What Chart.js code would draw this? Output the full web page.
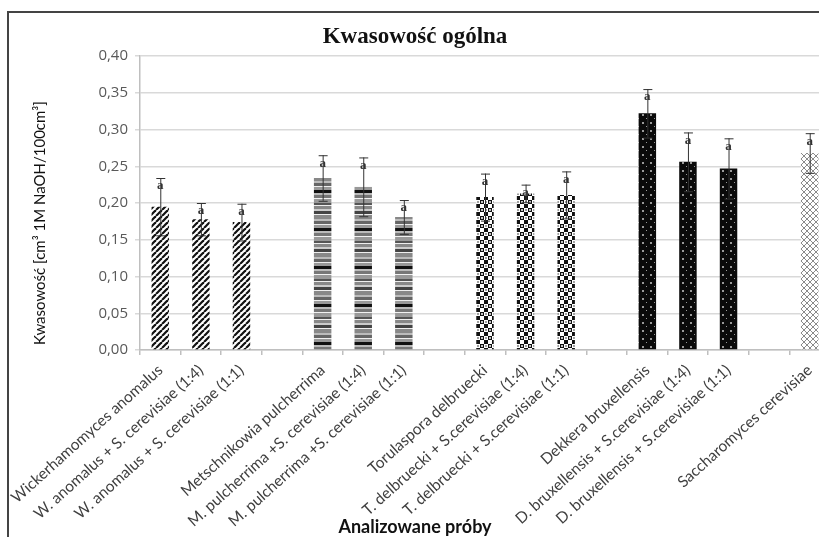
<!DOCTYPE html>
<html>
<head>
<meta charset="utf-8">
<script src="https://cdn.jsdelivr.net/npm/chart.js@4"></script>
<style>
  html, body { margin: 0; padding: 0; background: #fff; overflow: hidden; }
  #wrap { position: absolute; left: 0; top: 0; width: 830px; height: 537px; }
</style>
</head>
<body>
<div id="wrap"><canvas id="c"></canvas></div>
<script>
// dane (puste sloty = odstępy między grupami)
const labels = [
  'Wickerhamomyces anomalus', 'W. anomalus + S. cerevisiae (1:4)', 'W. anomalus + S. cerevisiae (1:1)', '',
  'Metschnikowia pulcherrima', 'M. pulcherrima +S. cerevisiae (1:4)', 'M. pulcherrima +S. cerevisiae (1:1)', '',
  'Torulaspora delbruecki', 'T. delbruecki + S.cerevisiae (1:4)', 'T. delbruecki + S.cerevisiae (1:1)', '',
  'Dekkera bruxellensis', 'D. bruxellensis + S.cerevisiae (1:4)', 'D. bruxellensis + S.cerevisiae (1:1)', '',
  'Saccharomyces cerevisiae'
];
const values = [0.195, 0.178, 0.174, null, 0.234, 0.222, 0.181, null, 0.208, 0.213, 0.211, null, 0.322, 0.256, 0.247, null, 0.268];
const errors = [0.039, 0.022, 0.025, null, 0.031, 0.040, 0.023, null, 0.032, 0.012, 0.032, null, 0.033, 0.040, 0.041, null, 0.027];
const letters = ['a', 'a', 'a', '', 'a', 'a', 'a', '', 'a', 'a', 'a', '', 'a', 'a', 'a', '', 'a'];
const groups = [0, 0, 0, -1, 1, 1, 1, -1, 2, 2, 2, -1, 3, 3, 3, -1, 4];
const yTitle = 'Kwasowość [cm³ 1M NaOH/100cm³]';
const xTitle = 'Analizowane próby';

// wzory wypełnień
function tile(w, h, draw) {
  const cv = document.createElement('canvas');
  cv.width = w; cv.height = h;
  const g = cv.getContext('2d');
  draw(g);
  return document.getElementById('c').getContext('2d').createPattern(cv, 'repeat');
}
const hatch = tile(6, 6, g => {
  g.fillStyle = '#fff'; g.fillRect(0, 0, 6, 6);
  g.strokeStyle = '#111'; g.lineWidth = 2.2;
  for (let k = -6; k <= 12; k += 6) { g.beginPath(); g.moveTo(k, 6); g.lineTo(k + 6, 0); g.stroke(); }
});
const stripes = tile(4, 38, g => {
  const bands = [[3, '#111'], [2, '#bbb'], [3, '#777'], [1, '#f2f2f2'], [4, '#999'], [2, '#555'], [1, '#eee'],
    [3, '#888'], [2, '#ccc'], [3, '#444'], [1, '#eee'], [4, '#888'], [2, '#bbb'], [3, '#666'], [1, '#eee'], [3, '#999']];
  let y = 0;
  for (const [h, c] of bands) { g.fillStyle = c; g.fillRect(0, y, 4, h); y += h; }
});
const checks = tile(8, 8, g => {
  g.fillStyle = '#fff'; g.fillRect(0, 0, 8, 8);
  g.fillStyle = '#111';
  g.fillRect(0, 0, 4, 4); g.fillRect(4, 4, 4, 4);
  g.fillStyle = '#fff';
  g.beginPath(); g.arc(2, 2, 1, 0, Math.PI * 2); g.fill();
  g.fillStyle = '#222';
  g.beginPath(); g.arc(6, 2, 0.8, 0, Math.PI * 2); g.fill();
});
const dots = tile(8, 8, g => {
  g.fillStyle = '#0a0a0a'; g.fillRect(0, 0, 8, 8);
  g.fillStyle = '#9a9a9a';
  g.fillRect(2, 2, 2, 2); g.fillRect(6, 6, 1, 1);
});
const crosses = tile(6, 6, g => {
  g.fillStyle = '#fff'; g.fillRect(0, 0, 6, 6);
  g.strokeStyle = '#8a8a8a'; g.lineWidth = 1;
  g.beginPath(); g.moveTo(0, 0); g.lineTo(6, 6); g.moveTo(6, 0); g.lineTo(0, 6); g.stroke();
});
const fills = [hatch, stripes, checks, dots, crosses];

// ramka, tytuły osi
const frame = {
  id: 'frame',
  beforeDraw(chart) {
    const { ctx } = chart;
    ctx.save();
    ctx.fillStyle = '#fff';
    ctx.fillRect(0, 0, chart.width, chart.height);
    ctx.strokeStyle = '#444';
    ctx.lineWidth = 2;
    ctx.beginPath();
    ctx.moveTo(8, chart.height); ctx.lineTo(8, 12); ctx.lineTo(chart.width, 12);
    ctx.stroke();
    ctx.restore();
  },
  afterDraw(chart) {
    const { ctx } = chart;
    ctx.save();
    ctx.fillStyle = '#111';
    ctx.textAlign = 'center';
    ctx.textBaseline = 'middle';
    ctx.font = 'bold 18px Lato';
    ctx.fillText(xTitle, 415, 527);
    ctx.translate(40, 223);
    ctx.rotate(-Math.PI / 2);
    ctx.font = '15px Lato';
    ctx.fillText(yTitle, 0, 0);
    ctx.restore();
  }
};

const errBars = {
  id: 'errBars',
  afterDatasetsDraw(chart) {
    const { ctx } = chart;
    const y = chart.scales.y;
    const meta = chart.getDatasetMeta(0);
    ctx.save();
    meta.data.forEach((bar, i) => {
      if (values[i] == null) return;
      const x = bar.x;
      const top = y.getPixelForValue(values[i] + errors[i]);
      const bot = y.getPixelForValue(values[i] - errors[i]);
      ctx.strokeStyle = '#333';
      ctx.lineWidth = 1;
      ctx.beginPath();
      ctx.moveTo(x + 0.5, top); ctx.lineTo(x + 0.5, bot);
      ctx.moveTo(x - 4, top + 0.5); ctx.lineTo(x + 5, top + 0.5);
      ctx.moveTo(x - 4, bot + 0.5); ctx.lineTo(x + 5, bot + 0.5);
      ctx.stroke();
      ctx.fillStyle = '#333';
      ctx.font = 'bold 13px "Liberation Serif"';
      ctx.textAlign = 'center';
      ctx.textBaseline = 'middle';
      ctx.fillText(letters[i], x, top + 8);
    });
    ctx.restore();
  }
};

new Chart(document.getElementById('c'), {
  type: 'bar',
  data: {
    labels,
    datasets: [{
      data: values,
      backgroundColor: groups.map(g => (g < 0 ? 'transparent' : fills[g])),
      borderWidth: 0,
      categoryPercentage: 1,
      barPercentage: 0.43,
    }],
  },
  options: {
    responsive: true, maintainAspectRatio: false, animation: false,
    layout: { padding: { left: 0, right: 0, top: 0, bottom: 0 } },
    plugins: {
      legend: { display: false },
      tooltip: { enabled: false },
      title: {
        display: true, text: 'Kwasowość ogólna', color: '#111',
        font: { family: '"Liberation Serif"', size: 23, weight: 'bold' },
        padding: { top: 23, bottom: 5.4 },
      },
    },
    scales: {
      y: {
        min: 0, max: 0.4,
        afterFit: s => { s.width = 140; },
        ticks: {
          stepSize: 0.05, padding: 7, color: '#595959',
          font: { family: '"Open Sans"', size: 15 },
          callback: v => v.toFixed(2).replace('.', ','),
        },
        grid: { color: '#d9d9d9', lineWidth: 1.5, tickLength: 5 },
        border: { color: '#bfbfbf', width: 1.5 },
      },
      x: {
        offset: true,
        afterFit: s => { s.height = 187; },
        ticks: {
          autoSkip: false, minRotation: 42, maxRotation: 42, padding: 6, color: '#404040',
          font: { family: 'Lato', size: 15.5 },
        },
        grid: { offset: true, drawOnChartArea: false, tickLength: 5, color: '#bfbfbf', lineWidth: 1.5 },
        border: { color: '#bfbfbf', width: 1.5 },
      },
    },
  },
  plugins: [frame, errBars],
});
</script>
</body>
</html>
